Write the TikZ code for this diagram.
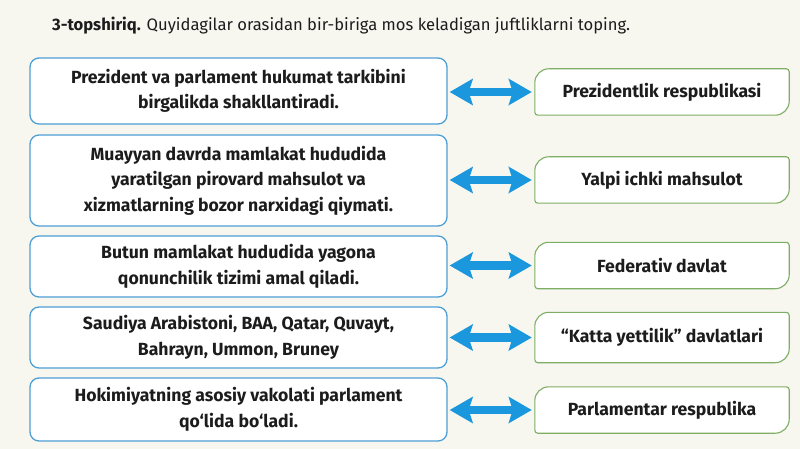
\documentclass[tikz,border=0pt]{standalone}
\usepackage{fontspec}
\setmainfont{Fira Sans}
\usetikzlibrary{arrows.meta}
\definecolor{bg}{HTML}{F7F7F0}
\definecolor{lblue}{HTML}{4E9FD6}
\definecolor{rgreen}{HTML}{7DAE63}
\definecolor{arr}{HTML}{1B98DD}
\definecolor{txt}{HTML}{1C1C1C}
\newcommand\leafoutline[1]{%
  \draw[leafline] (#1.west) [rounded corners=14pt] -- (#1.north west)
    [rounded corners=3pt] -- (#1.north east)
    [rounded corners=14pt] -- (#1.south east)
    [rounded corners=3pt] -- (#1.south west) -- cycle;}
\begin{document}
\begin{tikzpicture}[x=1pt,y=-1pt,
  lbox/.style={draw=lblue, line width=1.3pt, fill=white, rounded corners=9pt,
    minimum width=417pt, align=center, inner sep=0pt, text=txt,
    font=\fontsize{17.6}{25.5}\selectfont\bfseries},
  rbox/.style={minimum width=254pt, minimum height=46pt, inner sep=0pt,
    text=txt, font=\fontsize{17.6}{20}\selectfont\bfseries},
  leafline/.style={draw=rgreen, line width=1.1pt, fill=white},
  link/.style={draw=arr, line width=8.5pt,
    {Stealth[length=23pt,width=26pt,inset=4pt]}-{Stealth[length=23pt,width=26pt,inset=4pt]},
    shorten <=2pt, shorten >=3pt}
]
\fill[bg] (0,0) rectangle (800,449);
\useasboundingbox (0,0) rectangle (800,449);

\node[anchor=base west, inner sep=0pt, text=txt, font=\fontsize{16.6}{20}\selectfont] (title) at (52,31)
  {\textbf{3-topshiriq.} Quyidagilar orasidan bir-biriga mos keladigan juftliklarni toping.};

\node[lbox, minimum height=66pt] (l1) at (238.5,91)
  {Prezident va parlament hukumat tarkibini\\birgalikda shakllantiradi.};
\node[lbox, minimum height=91pt] (l2) at (238.5,180.5)
  {Muayyan davrda mamlakat hududida\\yaratilgan pirovard mahsulot va\\xizmatlarning bozor narxidagi qiymati.};
\node[lbox, minimum height=61pt] (l3) at (238.5,266.5)
  {Butun mamlakat hududida yagona\\qonunchilik tizimi amal qiladi.};
\node[lbox, minimum height=61pt] (l4) at (238.5,337.5)
  {Saudiya Arabistoni, BAA, Qatar, Quvayt,\\Bahrayn, Ummon, Bruney};
\node[lbox, minimum height=63pt] (l5) at (238.5,409.5)
  {Hokimiyatning asosiy vakolati parlament\\qo‘lida bo‘ladi.};

\node[rbox] (r1) at (662,92) {};
\node[rbox] (r2) at (662,180) {};
\node[rbox] (r3) at (662,265.5) {};
\node[rbox, minimum height=50pt] (r4) at (662,337.5) {};
\node[rbox] (r5) at (662,410) {};
\leafoutline{r1}\leafoutline{r2}\leafoutline{r3}\leafoutline{r4}\leafoutline{r5}
\node[rbox] at (r1) {Prezidentlik respublikasi};
\node[rbox] at (r2) {Yalpi ichki mahsulot};
\node[rbox] at (r3) {Federativ davlat};
\node[rbox] at (r4) {“Katta yettilik” davlatlari};
\node[rbox] at (r5) {Parlamentar respublika};

\draw[link] (r1.west -| l1.east) -- (r1.west);
\draw[link] (r2.west -| l2.east) -- (r2.west);
\draw[link] (r3.west -| l3.east) -- (r3.west);
\draw[link] (r4.west -| l4.east) -- (r4.west);
\draw[link] (r5.west -| l5.east) -- (r5.west);
\end{tikzpicture}
\end{document}
